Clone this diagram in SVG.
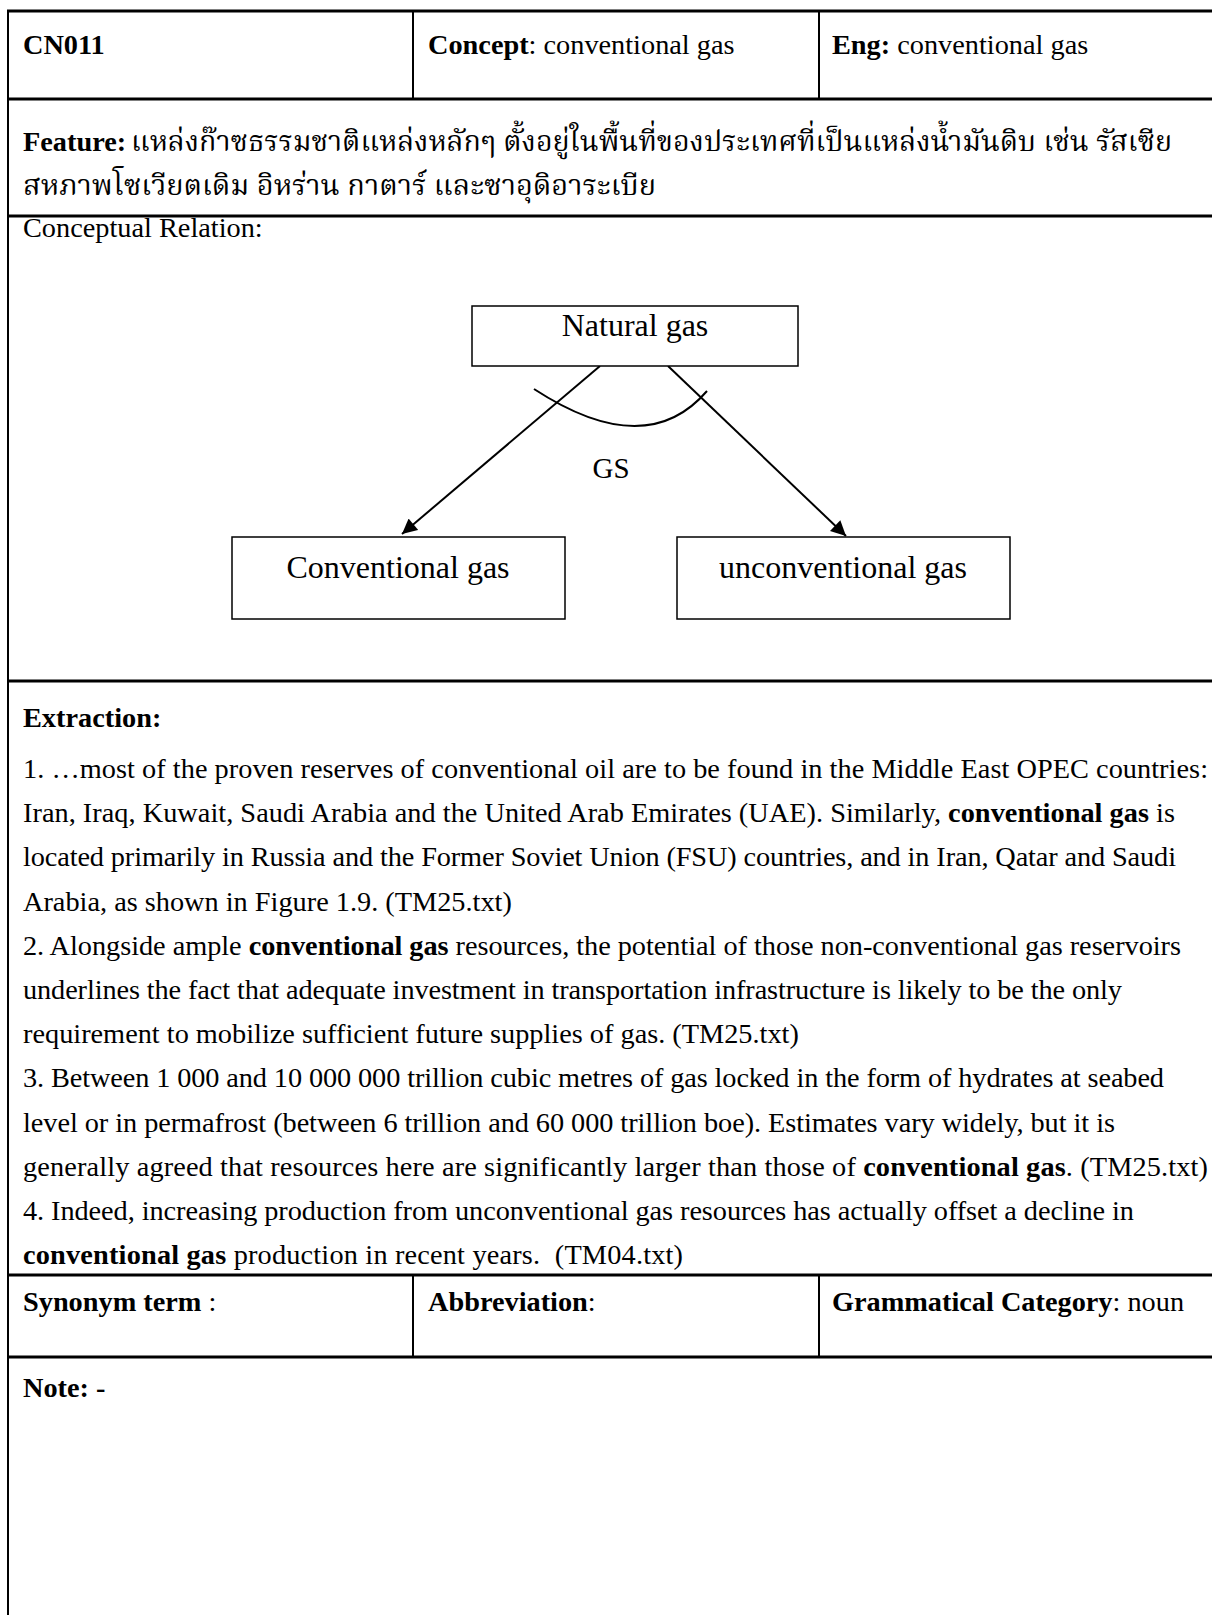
<svg xmlns="http://www.w3.org/2000/svg" width="1212" height="1615" viewBox="0 0 1212 1615">
  <style>
    .t { font-family: "Liberation Serif", "Times New Roman", serif; font-size: 28.3px; fill: #000; }
    .b { font-weight: bold; }
    .th { font-family: "Norasi", "Kinnari", "Noto Serif Thai", "TH Sarabun New", "Loma", "Garuda", "Noto Sans Thai", "Noto Sans", sans-serif; font-size: 29px; fill: #000; }
    .node-text { font-family: "Liberation Serif", "Times New Roman", serif; font-size: 32px; fill: #000; text-anchor: middle; }
    .hline { stroke: #000; stroke-width: 3; }
    .vline { stroke: #000; stroke-width: 2; }
    .box { fill: #fff; stroke: #000; stroke-width: 1.5; }
    .edge { stroke: #000; stroke-width: 2; fill: none; }
  </style>
  <defs>
    <marker id="arrow" viewBox="0 0 10 10" refX="10" refY="5" markerWidth="8" markerHeight="7.5" markerUnits="strokeWidth" orient="auto">
      <path d="M0,0 L10,5 L0,10 z" fill="#000"/>
    </marker>
  </defs>

  <rect width="1212" height="1615" fill="#fff"/>

  <!-- table grid -->
  <g id="table">
    <line class="vline" x1="8" y1="10" x2="8" y2="1615"/>
    <line class="hline" x1="7" y1="11" x2="1212" y2="11"/>
    <line class="hline" x1="7" y1="99" x2="1212" y2="99"/>
    <line class="hline" x1="7" y1="216" x2="1212" y2="216"/>
    <line class="hline" x1="7" y1="681" x2="1212" y2="681"/>
    <line class="hline" x1="7" y1="1275" x2="1212" y2="1275"/>
    <line class="hline" x1="7" y1="1357" x2="1212" y2="1357"/>
    <line class="vline" x1="413" y1="11" x2="413" y2="99"/>
    <line class="vline" x1="819" y1="11" x2="819" y2="99"/>
    <line class="vline" x1="413" y1="1275" x2="413" y2="1357"/>
    <line class="vline" x1="819" y1="1275" x2="819" y2="1357"/>
  </g>

  <!-- header row -->
  <g id="header">
    <text class="t b" x="23" y="54">CN011</text>
    <text class="t" x="428" y="54"><tspan class="b">Concept</tspan>: conventional gas</text>
    <text class="t" x="832" y="54"><tspan class="b">Eng:</tspan> conventional gas</text>
  </g>

  <!-- feature -->
  <g id="feature">
    <text class="t b" x="23" y="151">Feature:</text>
    <text class="th" x="131" y="151" textLength="1041" lengthAdjust="spacingAndGlyphs">แหล่งก๊าซธรรมชาติแหล่งหลักๆ ตั้งอยู่ในพื้นที่ของประเทศที่เป็นแหล่งน้ำมันดิบ เช่น รัสเซีย</text>
    <text class="th" x="23" y="195" textLength="633" lengthAdjust="spacingAndGlyphs">สหภาพโซเวียตเดิม อิหร่าน กาตาร์ และซาอุดิอาระเบีย</text>
  </g>

  <text class="t" x="23" y="237">Conceptual Relation:</text>

  <!-- concept diagram: connectors -->
  <g id="connectors">
    <line class="edge" x1="600" y1="366" x2="402" y2="534" marker-end="url(#arrow)"/>
    <line class="edge" x1="668" y1="366" x2="846" y2="536" marker-end="url(#arrow)"/>
    <path class="edge" d="M534,389 Q646,462 707,391" stroke-width="1.8"/>
    <text class="node-text" x="611" y="478" style="font-size:29px">GS</text>
  </g>

  <g id="natural-gas">
    <rect class="box" x="472" y="306" width="326" height="60"/>
    <text class="node-text" x="635" y="336">Natural gas</text>
  </g>
  <g id="conventional-gas">
    <rect class="box" x="232" y="537" width="333" height="82"/>
    <text class="node-text" x="398" y="578">Conventional gas</text>
  </g>
  <g id="unconventional-gas">
    <rect class="box" x="677" y="537" width="333" height="82"/>
    <text class="node-text" x="843" y="578">unconventional gas</text>
  </g>

  <!-- extraction -->
  <g id="extraction">
    <text class="t b" x="23" y="727">Extraction:</text>
    <text class="t" x="23" y="778" textLength="1185">1. …most of the proven reserves of conventional oil are to be found in the Middle East OPEC countries:</text>
    <text class="t" x="23" y="822" textLength="1152">Iran, Iraq, Kuwait, Saudi Arabia and the United Arab Emirates (UAE). Similarly, <tspan class="b">conventional gas</tspan> is</text>
    <text class="t" x="23" y="866" textLength="1153">located primarily in Russia and the Former Soviet Union (FSU) countries, and in Iran, Qatar and Saudi</text>
    <text class="t" x="23" y="911">Arabia, as shown in Figure 1.9. (TM25.txt)</text>
    <text class="t" x="23" y="955" textLength="1158">2. Alongside ample <tspan class="b">conventional gas</tspan> resources, the potential of those non-conventional gas reservoirs</text>
    <text class="t" x="23" y="999" textLength="1099">underlines the fact that adequate investment in transportation infrastructure is likely to be the only</text>
    <text class="t" x="23" y="1043">requirement to mobilize sufficient future supplies of gas. (TM25.txt)</text>
    <text class="t" x="23" y="1087" textLength="1141">3. Between 1 000 and 10 000 000 trillion cubic metres of gas locked in the form of hydrates at seabed</text>
    <text class="t" x="23" y="1132" textLength="1092">level or in permafrost (between 6 trillion and 60 000 trillion boe). Estimates vary widely, but it is</text>
    <text class="t" x="23" y="1176" textLength="1185">generally agreed that resources here are significantly larger than those of <tspan class="b">conventional gas</tspan>. (TM25.txt)</text>
    <text class="t" x="23" y="1220" textLength="1111">4. Indeed, increasing production from unconventional gas resources has actually offset a decline in</text>
    <text class="t" x="23" y="1264" textLength="660"><tspan class="b">conventional gas</tspan> production in recent years.&#160; (TM04.txt)</text>
  </g>

  <!-- bottom rows -->
  <g id="footer">
    <text class="t" x="23" y="1311"><tspan class="b">Synonym term</tspan> :</text>
    <text class="t" x="428" y="1311"><tspan class="b">Abbreviation</tspan>:</text>
    <text class="t" x="832" y="1311"><tspan class="b">Grammatical Category</tspan>: noun</text>
    <text class="t b" x="23" y="1397">Note: -</text>
  </g>
</svg>
